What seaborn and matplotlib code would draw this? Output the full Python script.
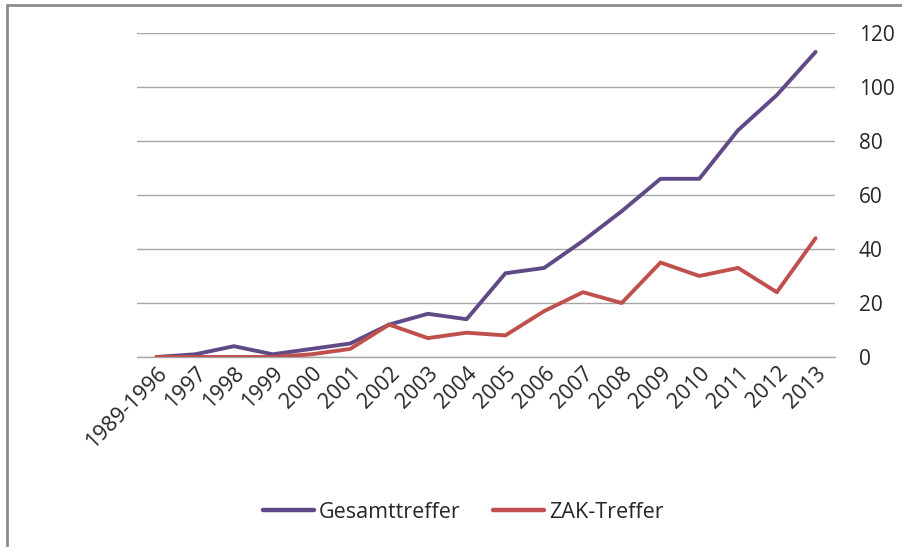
import matplotlib
matplotlib.use("Agg")
import matplotlib.pyplot as plt
import numpy as np
import pandas as pd
import seaborn as sns
from matplotlib.lines import Line2D

# data
years = ["1989-1996", "1997", "1998", "1999", "2000", "2001", "2002", "2003", "2004",
         "2005", "2006", "2007", "2008", "2009", "2010", "2011", "2012", "2013"]
gesamt = [0, 1, 4, 1, 3, 5, 12, 16, 14, 31, 33, 43, 54, 66, 66, 84, 97, 113]
zak = [0, 0, 0, 0, 1, 3, 12, 7, 9, 8, 17, 24, 20, 35, 30, 33, 24, 44]
series_names = ["Gesamttreffer", "ZAK-Treffer"]
colors = ["#5F4A87", "#C0504D"]

df = pd.DataFrame({
    "pos": list(range(len(years))) * 2,
    "wert": gesamt + zak,
    "serie": [series_names[0]] * len(years) + [series_names[1]] * len(years),
})

sns.set_style("white")
plt.rcParams["font.family"] = ["Open Sans", "DejaVu Sans"]

fig = plt.figure(figsize=(9.02, 5.47), dpi=100)
ax = fig.add_axes([137 / 902, 190 / 547, 698 / 902, 324 / 547])

sns.lineplot(data=df, x="pos", y="wert", hue="serie", palette=colors,
             linewidth=2.8, ax=ax, legend=False, zorder=3)

ax.set_xlim(-0.5, len(years) - 0.5)
ax.set_ylim(0, 120)
ax.set_yticks(np.arange(0, 121, 20))
ax.yaxis.tick_right()
ax.grid(axis="y", color="#A6A6A6", linewidth=1.0)
ax.axhline(0, color="#A6A6A6", linewidth=1.0, clip_on=False, zorder=1)
ax.set_axisbelow(True)
for s in ax.spines.values():
    s.set_visible(False)

ax.set_xticks(range(len(years)))
ax.set_xticklabels(years, rotation=45, ha="right", rotation_mode="anchor")
ax.tick_params(axis="x", length=0, pad=4, labelsize=15.5)
ax.tick_params(axis="y", length=0, pad=17, labelsize=15)
for lab in ax.get_yticklabels():
    lab.set_horizontalalignment("left")
ax.set_xlabel("")
ax.set_ylabel("")

handles = [Line2D([], [], color=c, linewidth=3.2) for c in colors]
fig.legend(handles, series_names, loc="center", bbox_to_anchor=(463 / 902, 1 - 512 / 547),
           ncol=2, frameon=False, fontsize=15.5, handlelength=2.4, columnspacing=1.5,
           handletextpad=0.2)

# outer chart frame (left and top edges visible)
fig.add_artist(Line2D([7 / 902, 7 / 902], [0, 1 - 5 / 547], color="#8C8C8C", linewidth=2))
fig.add_artist(Line2D([7 / 902, 1], [1 - 5 / 547, 1 - 5 / 547], color="#8C8C8C", linewidth=2))

fig.savefig("out.png", dpi=100)
